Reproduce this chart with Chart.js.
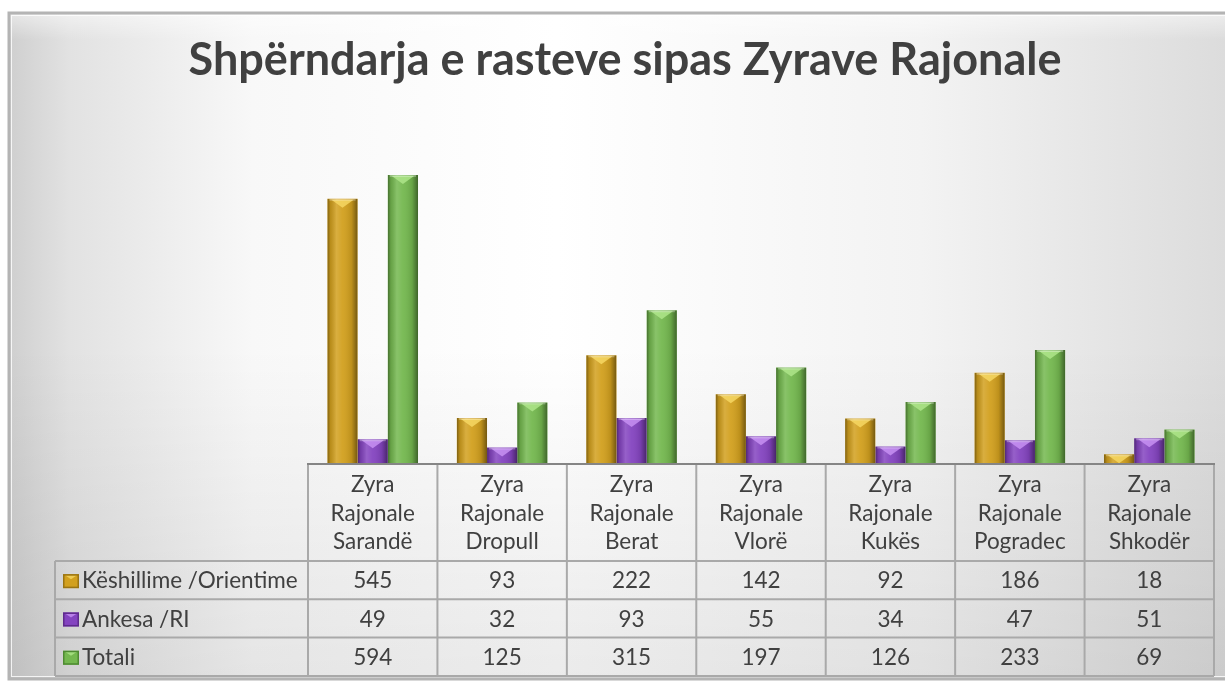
<!DOCTYPE html>
<html><head><meta charset="utf-8">
<script src="https://cdn.jsdelivr.net/npm/chart.js@4.4.1/dist/chart.umd.min.js"></script>
<style>html,body{margin:0;padding:0;background:#fff;overflow:hidden}#wrap{width:1225px;height:681px;position:relative}</style>
</head><body><div id="wrap"><canvas id="c" width="1225" height="681"></canvas></div>
<script>
const titleText = 'Shpërndarja e rasteve sipas Zyrave Rajonale';
const categories = [
  ['Zyra','Rajonale','Sarandë'],
  ['Zyra','Rajonale','Dropull'],
  ['Zyra','Rajonale','Berat'],
  ['Zyra','Rajonale','Vlorë'],
  ['Zyra','Rajonale','Kukës'],
  ['Zyra','Rajonale','Pogradec'],
  ['Zyra','Rajonale','Shkodër']
];
const seriesNames = ['Këshillime /Orientime', 'Ankesa /RI', 'Totali'];
const keshillime = [545, 93, 222, 142, 92, 186, 18];
const ankesa = [49, 32, 93, 55, 34, 47, 51];
const totali = [594, 125, 315, 197, 126, 233, 69];
const yMax = 700;

const baseColors = ['#D2A01E', '#8444C0', '#74B84F'];
const lightColors = ['#F6D763', '#C791F2', '#AEE58A'];
const darkColors = ['#9A7412', '#5E2B8C', '#4E8A32'];
const TXT = '#404040';
const FONT = 'Lato';

const framePlugin = {
  id: 'frame',
  beforeDraw(chart) {
    const ctx = chart.ctx;
    const W = chart.width, H = chart.height;
    ctx.save();
    ctx.fillStyle = '#ffffff';
    ctx.fillRect(0, 0, W, H);
    const fx = 9, fy = 13, fw = W + 10 - fx, fh = 679 - fy;
    const g = ctx.createLinearGradient(fx, 0, W, 0);
    g.addColorStop(0, '#cfcfcf');
    g.addColorStop(0.05, '#e2e2e2');
    g.addColorStop(0.2, '#f8f8f8');
    g.addColorStop(0.45, '#ffffff');
    g.addColorStop(0.75, '#f3f3f3');
    g.addColorStop(1, '#dcdcdc');
    ctx.fillStyle = g;
    ctx.fillRect(fx, fy, fw, fh);
    const gv = ctx.createLinearGradient(0, fy, 0, fy + fh);
    gv.addColorStop(0, 'rgba(255,255,255,0.5)');
    gv.addColorStop(0.04, 'rgba(255,255,255,0)');
    gv.addColorStop(0.5, 'rgba(0,0,0,0)');
    gv.addColorStop(1, 'rgba(0,0,0,0.08)');
    ctx.fillStyle = gv;
    ctx.fillRect(fx, fy, fw, fh);
    ctx.strokeStyle = '#b4b4b4';
    ctx.lineWidth = 3;
    ctx.strokeRect(fx, fy, fw, fh);
    ctx.strokeStyle = 'rgba(255,255,255,0.8)';
    ctx.lineWidth = 1;
    ctx.strokeRect(fx + 2.5, fy + 2.5, fw - 5, fh - 5);
    ctx.restore();
  }
};

const shadePlugin = {
  id: 'shade',
  afterDatasetsDraw(chart) {
    const ctx = chart.ctx;
    chart.data.datasets.forEach((ds, di) => {
      const meta = chart.getDatasetMeta(di);
      meta.data.forEach(el => {
        const p = el.getProps(['x', 'y', 'base', 'width'], true);
        const l = p.x - p.width / 2, r = p.x + p.width / 2;
        const top = Math.min(p.y, p.base), bot = Math.max(p.y, p.base);
        const h = bot - top;
        if (h <= 0) return;
        ctx.save();
        ctx.beginPath(); ctx.rect(l, top, p.width, h); ctx.clip();
        const g = ctx.createLinearGradient(l, 0, r, 0);
        g.addColorStop(0, 'rgba(0,0,0,0.40)');
        g.addColorStop(0.1, 'rgba(0,0,0,0.12)');
        g.addColorStop(0.3, 'rgba(255,255,255,0.15)');
        g.addColorStop(0.5, 'rgba(255,255,255,0.05)');
        g.addColorStop(0.8, 'rgba(0,0,0,0.10)');
        g.addColorStop(1, 'rgba(0,0,0,0.45)');
        ctx.fillStyle = g;
        ctx.fillRect(l, top, p.width, h);
        ctx.fillStyle = lightColors[di];
        ctx.globalAlpha = 0.85;
        ctx.beginPath();
        ctx.moveTo(l + 4, top + 1);
        ctx.lineTo(r - 4, top + 1);
        ctx.lineTo(p.x, top + 9);
        ctx.closePath();
        ctx.fill();
        ctx.globalAlpha = 0.5;
        ctx.fillStyle = 'rgba(255,255,255,0.6)';
        ctx.fillRect(l + 2, top, p.width - 4, 2);
        ctx.restore();
      });
    });
  }
};

function drawKey(ctx, k, sx, sy, w, h) {
  ctx.fillStyle = baseColors[k];
  ctx.fillRect(sx, sy, w, h);
  ctx.fillStyle = lightColors[k];
  ctx.globalAlpha = 0.8;
  ctx.beginPath(); ctx.moveTo(sx + 2, sy + 1); ctx.lineTo(sx + w - 2, sy + 1); ctx.lineTo(sx + w / 2, sy + 5); ctx.closePath(); ctx.fill();
  ctx.globalAlpha = 1;
  ctx.strokeStyle = darkColors[k];
  ctx.lineWidth = 1.5;
  ctx.strokeRect(sx + 0.75, sy + 0.75, w - 1.5, h - 1.5);
}

const tablePlugin = {
  id: 'dataTable',
  afterDraw(chart) {
    const ctx = chart.ctx;
    const area = chart.chartArea;
    const xs = chart.scales.x;
    const n = categories.length;
    const colW = xs.getPixelForValue(1) - xs.getPixelForValue(0);
    const left = area.left, right = area.right, y0 = area.bottom;
    const headerH = 98, rowH = 38.3, labelLeft = 55;
    const series = [keshillime, ankesa, totali];
    const tableBottom = y0 + headerH + rowH * series.length;
    ctx.save();
    ctx.strokeStyle = '#a9a9a9';
    ctx.lineWidth = 2;
    ctx.beginPath();
    for (let k = 0; k <= series.length; k++) {
      const y = y0 + headerH + rowH * k;
      ctx.moveTo(labelLeft, y); ctx.lineTo(right, y);
    }
    ctx.moveTo(labelLeft, y0 + headerH); ctx.lineTo(labelLeft, tableBottom);
    for (let i = 0; i <= n; i++) {
      const x = i === n ? right : xs.getPixelForValue(i) - colW / 2;
      ctx.moveTo(x, y0); ctx.lineTo(x, tableBottom);
    }
    ctx.stroke();
    ctx.strokeStyle = '#858585';
    ctx.lineWidth = 2;
    ctx.beginPath(); ctx.moveTo(left - 1, y0 + 1); ctx.lineTo(right + 1, y0 + 1); ctx.stroke();

    ctx.fillStyle = TXT;
    ctx.font = '22.5px ' + FONT;
    ctx.textAlign = 'center';
    ctx.textBaseline = 'middle';
    categories.forEach((lines, i) => {
      const cx = xs.getPixelForValue(i);
      lines.forEach((t, j) => ctx.fillText(t, cx, y0 + 22 + j * 28.5));
    });
    series.forEach((vals, k) => {
      const cy = y0 + headerH + rowH * k + rowH / 2 + 1;
      ctx.fillStyle = TXT;
      ctx.textAlign = 'center';
      vals.forEach((v, i) => ctx.fillText(String(v), xs.getPixelForValue(i), cy));
      drawKey(ctx, k, 63, cy - 7, 16, 14);
      ctx.fillStyle = TXT;
      ctx.textAlign = 'left';
      ctx.fillText(seriesNames[k], 82, cy);
    });
    ctx.restore();
  }
};

new Chart(document.getElementById('c'), {
  type: 'bar',
  data: {
    labels: categories,
    datasets: [
      { label: seriesNames[0], data: keshillime, backgroundColor: baseColors[0] },
      { label: seriesNames[1], data: ankesa, backgroundColor: baseColors[1] },
      { label: seriesNames[2], data: totali, backgroundColor: baseColors[2] }
    ]
  },
  options: {
    responsive: false,
    devicePixelRatio: 1,
    animation: false,
    layout: { padding: { left: 36, right: 11, top: 0, bottom: 218 } },
    datasets: { bar: { categoryPercentage: 0.7, barPercentage: 1.0, borderWidth: 0 } },
    plugins: {
      legend: { display: false },
      tooltip: { enabled: false },
      title: {
        display: true,
        text: titleText,
        color: TXT,
        font: { family: FONT, size: 45, weight: 'bold', lineHeight: 1.2 },
        padding: { top: 33, bottom: 36.5 }
      }
    },
    scales: {
      x: { display: false, offset: true },
      y: {
        display: true, min: 0, max: yMax,
        ticks: { display: false },
        grid: { display: false },
        border: { display: false },
        afterFit(scale) { scale.width = 272; }
      }
    }
  },
  plugins: [framePlugin, shadePlugin, tablePlugin]
});
</script>
</body></html>
